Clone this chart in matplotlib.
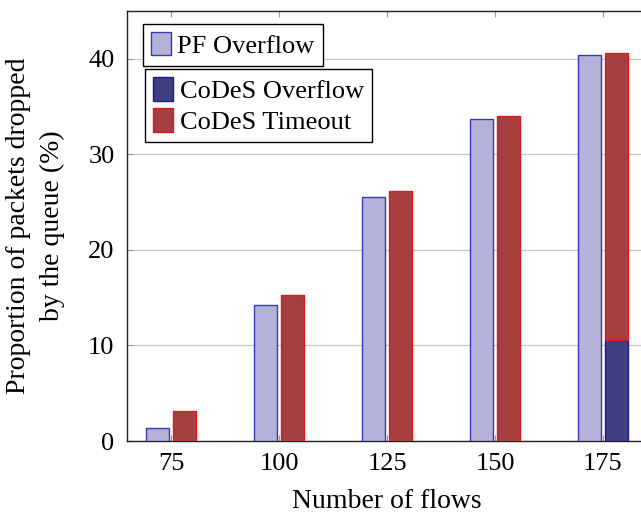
import matplotlib
matplotlib.use("Agg")
import matplotlib.pyplot as plt
import numpy as np

# data
flows = [75, 100, 125, 150, 175]
pf_overflow = [1.4, 14.2, 25.5, 33.7, 40.4]
codes_overflow = [0.0, 0.0, 0.0, 0.0, 10.6]
codes_timeout = [3.1, 15.3, 26.2, 34.0, 30.0]

plt.rcParams['font.family'] = ['Liberation Serif', 'DejaVu Serif']
plt.rcParams['font.size'] = 19

fig = plt.figure(figsize=(6.41, 5.13), dpi=100)
ax = fig.add_axes([127 / 641, 72 / 513, 520 / 641, 430 / 513])

x = np.array(flows, dtype=float)
w = 5.3
off = 3.05

h_pf = ax.bar(x - off, pf_overflow, w, color='#b2b2d9', edgecolor='#3838b0',
              linewidth=1.0, zorder=3, label='PF Overflow')
h_co = ax.bar(x + off, codes_overflow, w, color='#404080', edgecolor='#1a1a99',
              linewidth=1.0, zorder=3, label='CoDeS Overflow')
h_ct = ax.bar(x + off, codes_timeout, w, bottom=codes_overflow, color='#a64040',
              edgecolor='#e01a1a', linewidth=1.0, zorder=3, label='CoDeS Timeout')

ax.set_xlim(64.8, 185.2)
ax.set_ylim(0, 45)
ax.set_xticks(flows)
ax.set_yticks([0, 10, 20, 30, 40])
ax.yaxis.grid(True, color='#c8c8c8', linewidth=0.9, zorder=0)
ax.tick_params(direction='in', length=4, color='#999999', top=True, right=True,
               labelsize=19)
ax.tick_params(axis='x', pad=9)
ax.tick_params(axis='y', pad=9)
for s in ax.spines.values():
    s.set_linewidth(1.0)
    s.set_color('#222222')

ax.set_xlabel('Number of flows', fontsize=20, labelpad=10)
ax.set_ylabel('Proportion of packets dropped\nby the queue (%)', fontsize=20,
              labelpad=17, linespacing=1.45)

leg_kw = dict(frameon=True, fancybox=False, edgecolor='black', framealpha=1,
              handlelength=0.75, handleheight=1.0, handletextpad=0.25,
              borderpad=0.3, labelspacing=0.2, borderaxespad=0, fontsize=19)
leg1 = ax.legend(handles=[h_pf], loc='upper left', bbox_to_anchor=(0.031, 0.970), **leg_kw)
leg1.get_frame().set_linewidth(1.0)
ax.add_artist(leg1)
leg2 = ax.legend(handles=[h_co, h_ct], loc='upper left', bbox_to_anchor=(0.035, 0.865), **leg_kw)
leg2.get_frame().set_linewidth(1.0)

fig.savefig('out.png', dpi=100)
